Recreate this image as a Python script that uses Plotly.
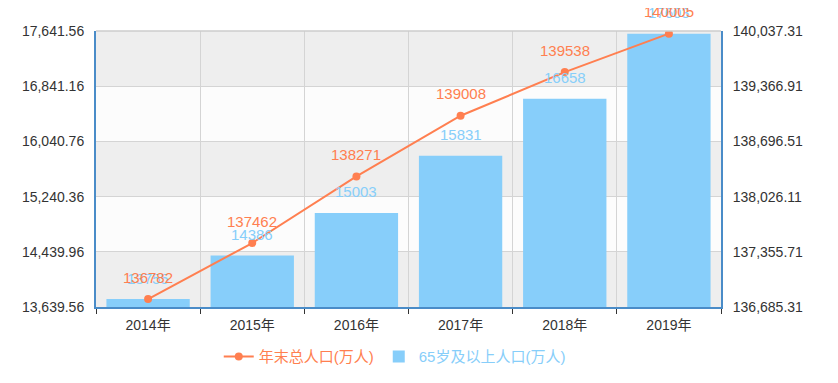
import plotly.graph_objects as go

years = ["2014年", "2015年", "2016年", "2017年", "2018年", "2019年"]
total_pop = [136782, 137462, 138271, 139008, 139538, 140005]
elderly_pop = [13755, 14386, 15003, 15831, 16658, 17603]
left_ticks = [13639.56, 14439.96, 15240.36, 16040.76, 16841.16, 17641.56]
right_ticks = [136685.31, 137355.71, 138026.11, 138696.51, 139366.91, 140037.31]

line_name = "年末总人口(万人)"
bar_name = "65岁及以上人口(万人)"
LINE_C = "#FF7F50"
BAR_C = "#87CEFA"
AXIS_C = "#4a8cc8"
FONT = "Liberation Sans, Arial, Noto Sans CJK SC, sans-serif"

fig = go.Figure()
fig.add_trace(go.Bar(
    x=years, y=elderly_pop, name=f'<span style="color:{BAR_C}">{bar_name}</span>',
    marker=dict(color=BAR_C, line=dict(width=0)), yaxis="y", legendrank=2,
))
fig.add_trace(go.Scatter(
    x=years, y=total_pop, name=f'<span style="color:{LINE_C}">{line_name}</span>',
    mode="lines+markers", line=dict(color=LINE_C, width=2),
    marker=dict(color=LINE_C, size=8), yaxis="y2", legendrank=1,
))

# alternating bands
shapes = []
for i in range(len(left_ticks) - 1):
    shapes.append(dict(type="rect", xref="paper", yref="y", x0=0, x1=1,
                       y0=left_ticks[i], y1=left_ticks[i + 1],
                       fillcolor="#eeeeee" if i % 2 == 0 else "#fcfcfc",
                       line=dict(width=0), layer="below"))
shapes.append(dict(type="line", xref="paper", yref="paper", x0=0, x1=1, y0=1, y1=1,
                   line=dict(color="#cccccc", width=1.5)))

annotations = []
for x, v in zip(years, elderly_pop):
    annotations.append(dict(x=x, y=v, xref="x", yref="y", text=str(v), showarrow=False,
                            yanchor="middle", yshift=21, font=dict(color=BAR_C, size=15, family=FONT)))
for x, v in zip(years, total_pop):
    annotations.append(dict(x=x, y=v, xref="x", yref="y2", text=str(v), showarrow=False,
                            yanchor="middle", yshift=22, font=dict(color=LINE_C, size=15, family=FONT)))

fig.update_layout(
    width=838, height=383,
    margin=dict(l=88, r=125, t=23, b=84, autoexpand=False),
    paper_bgcolor="white", plot_bgcolor="#fcfcfc",
    font=dict(family=FONT, size=14, color="#333333"),
    bargap=0.2,
    shapes=shapes, annotations=annotations,
    showlegend=True,
    legend=dict(orientation="h", x=0.478, xanchor="center", y=-0.18, yanchor="middle",
                font=dict(size=15, family=FONT), itemwidth=30, traceorder="normal"),
    xaxis=dict(type="category", tickson="boundaries", showgrid=True, gridcolor="#d4d4d4",
               ticks="outside", ticklen=5, tickcolor="#333333", ticklabelstandoff=4,
               showline=True, linecolor=AXIS_C, linewidth=2,
               tickfont=dict(size=14, color="#333333")),
    yaxis=dict(range=[left_ticks[0], left_ticks[-1]], tickvals=left_ticks,
               ticktext=[f"{t:,.2f}" for t in left_ticks],
               showgrid=True, gridcolor="#d4d4d4", zeroline=False, ticklabelstandoff=7,
               showline=True, linecolor=AXIS_C, linewidth=2, ticks="",
               tickfont=dict(size=14, color="#333333")),
    yaxis2=dict(range=[right_ticks[0], right_ticks[-1]], tickvals=right_ticks,
                ticktext=[f"{t:,.2f}" for t in right_ticks],
                overlaying="y", side="right", showgrid=False, zeroline=False,
                ticklabelstandoff=7,
                showline=True, linecolor=AXIS_C, linewidth=2, ticks="",
                tickfont=dict(size=14, color="#333333")),
)

fig.write_html("out.html")
